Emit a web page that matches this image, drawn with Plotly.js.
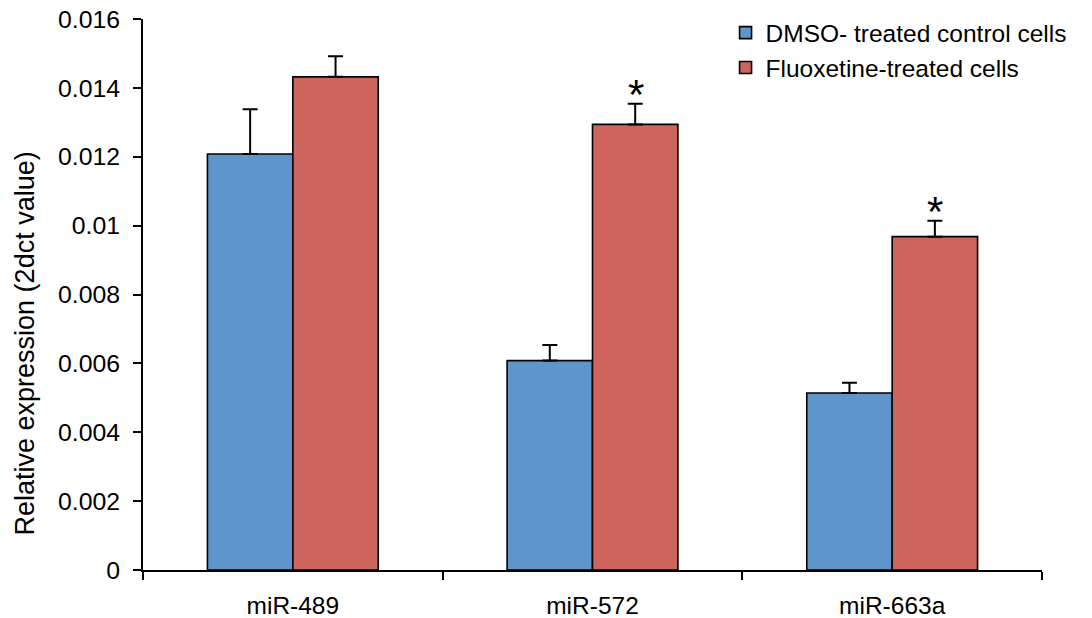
<!DOCTYPE html>
<html>
<head>
<meta charset="utf-8">
<script src="https://cdn.plot.ly/plotly-3.0.1.min.js"></script>
<style>html,body{margin:0;padding:0;background:#fff;}#chart{width:1092px;height:618px;}</style>
</head>
<body>
<div id="chart"></div>
<script>
const categories = ["miR-489", "miR-572", "miR-663a"];
const seriesNames = ["DMSO- treated control cells", "Fluoxetine-treated cells"];
const dmsoValues = [0.01208, 0.00608, 0.00514];
const dmsoErrors = [0.0013, 0.00045, 0.0003];
const fluoxValues = [0.01432, 0.01294, 0.00968];
const fluoxErrors = [0.0006, 0.0006, 0.00046];
const significance = ["", "*", "*"];
const yTickVals = [0, 0.002, 0.004, 0.006, 0.008, 0.01, 0.012, 0.014, 0.016];
const yTickText = ["0", "0.002", "0.004", "0.006", "0.008", "0.01", "0.012", "0.014", "0.016"];
const yTitle = "Relative expression (2dct value)";

const FONT = "Liberation Sans, Arial, sans-serif";

const traces = [
  {
    type: "bar", name: seriesNames[0], x: categories, y: dmsoValues,
    marker: {color: "#5E95CB", line: {color: "#000", width: 1.6}},
    error_y: {type: "data", symmetric: false, array: dmsoErrors, arrayminus: dmsoErrors.map(() => 0),
              color: "#000", thickness: 2, width: 7.5}
  },
  {
    type: "bar", name: seriesNames[1], x: categories, y: fluoxValues,
    marker: {color: "#CD645E", line: {color: "#000", width: 1.6}},
    error_y: {type: "data", symmetric: false, array: fluoxErrors, arrayminus: fluoxErrors.map(() => 0),
              color: "#000", thickness: 2, width: 7.5}
  }
];

const annotations = [];
categories.forEach((c, i) => {
  if (significance[i]) {
    annotations.push({
      x: c, y: fluoxValues[i] + fluoxErrors[i], xref: "x", yref: "y",
      text: significance[i], showarrow: false, xshift: 43, yanchor: "bottom", yshift: -16,
      font: {family: FONT, size: 42, color: "#000"}
    });
  }
});
annotations.push({
  text: yTitle, xref: "paper", yref: "paper", x: -0.1313, y: 0.411,
  xanchor: "center", yanchor: "middle", textangle: -90, showarrow: false,
  font: {family: FONT, size: 27, color: "#000"}
});

const layout = {
  width: 1092, height: 618,
  margin: {l: 143, r: 50, t: 19, b: 48, autoexpand: false},
  paper_bgcolor: "#fff", plot_bgcolor: "#fff",
  font: {family: FONT, size: 20, color: "#000"},
  barmode: "group", bargap: 0.43, bargroupgap: 0,
  showlegend: true,
  legend: {x: 0.648, y: 1.016, xanchor: "left", yanchor: "top", bgcolor: "rgba(0,0,0,0)",
           font: {family: FONT, size: 24.5, color: "#000"}, itemwidth: 30, tracegroupgap: 0},
  xaxis: {
    type: "category", showline: true, linecolor: "#000", linewidth: 2,
    ticks: "outside", tickson: "boundaries", ticklen: 8, tickwidth: 2, tickcolor: "#000",
    showgrid: false, zeroline: false, tickfont: {family: FONT, size: 24.5, color: "#000"},
    ticklabelstandoff: 13, fixedrange: true
  },
  yaxis: {
    range: [0, 0.016], showline: true, linecolor: "#000", linewidth: 2,
    ticks: "outside", ticklen: 8, tickwidth: 2, tickcolor: "#000",
    tickvals: yTickVals, ticktext: yTickText, showgrid: false, zeroline: false,
    tickfont: {family: FONT, size: 24.8, color: "#000"}, ticklabelstandoff: 8
  },
  annotations: annotations
};

Plotly.newPlot("chart", traces, layout, {displayModeBar: false, staticPlot: true});
</script>
</body>
</html>
